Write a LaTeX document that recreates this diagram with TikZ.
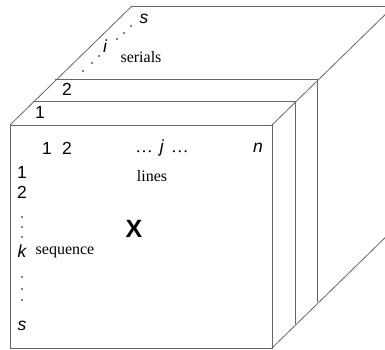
\documentclass[tikz,border=0pt]{standalone}
\usepackage{fontspec}
\setmainfont{Liberation Serif}
\setsansfont{Liberation Sans}
\begin{document}
\begin{tikzpicture}[x=1pt,y=-1pt,
  edge/.style={draw=black!60,line width=0.8pt},
  num/.style={font=\sffamily\fontsize{17.5}{18}\selectfont,inner sep=0pt},
  var/.style={font=\sffamily\itshape\fontsize{17.5}{18}\selectfont,inner sep=0pt},
  word/.style={font=\rmfamily\fontsize{16}{16}\selectfont,inner sep=0pt},
  pt/.style={fill=black,radius=0.9pt}]
  \useasboundingbox (0,0) rectangle (385,349);
  \clip (0,0) rectangle (385,349);

  %slices
  \draw[edge] (132,6) -- (394,6) -- (394,229);
  \draw[edge] (55,79) -- (317,79) -- (317,302);
  \draw[edge] (33,101) -- (295,101) -- (295,324);
  \draw[edge,fill=white] (10,125) rectangle (272,348);

  %diagonals
  \draw[edge] (10,125) -- (132,6);
  \draw[edge] (272,125) -- (394,6);
  \draw[edge] (272,348) -- (394,229);

  %top labels
  \node[var] (ts) at (144,19) {s};
  \node[var] (ti) at (105,46) {i};
  \node[word] (serials) at (141,57) {serials};
  \node[num] (s2) at (67,89) {2};
  \node[num] (s1) at (40,112) {1};
  \foreach \x/\y in {83/71,92/63,99/56,117/39,124/33,131/26}
    \fill[pt] (\x,\y) circle;

  %front labels
  \node[num] (c1) at (47,148) {1};
  \node[num] (c2) at (67,148) {2};
  \node[num] (cj) at (162,148) {\textrm{\dots}\hspace{7pt}\textit{j}\hspace{7pt}\textrm{\dots}};
  \node[var] (cn) at (258,148) {n};
  \node[word] (lines) at (152,176) {lines};
  \node[num] (r1) at (22,172) {1};
  \node[num] (r2) at (22,192) {2};
  \node[var] (rk) at (22,251) {k};
  \node[word] (sequence) at (65,252) {sequence};
  \node[var] (rs) at (22,326) {s};
  \foreach \y in {217,227,237,277,289,300}
    \fill[pt] (22,\y) circle;
  \node[font=\sffamily\bfseries\fontsize{25}{25}\selectfont,inner sep=0pt] (X) at (134,229) {X};
\end{tikzpicture}
\end{document}
